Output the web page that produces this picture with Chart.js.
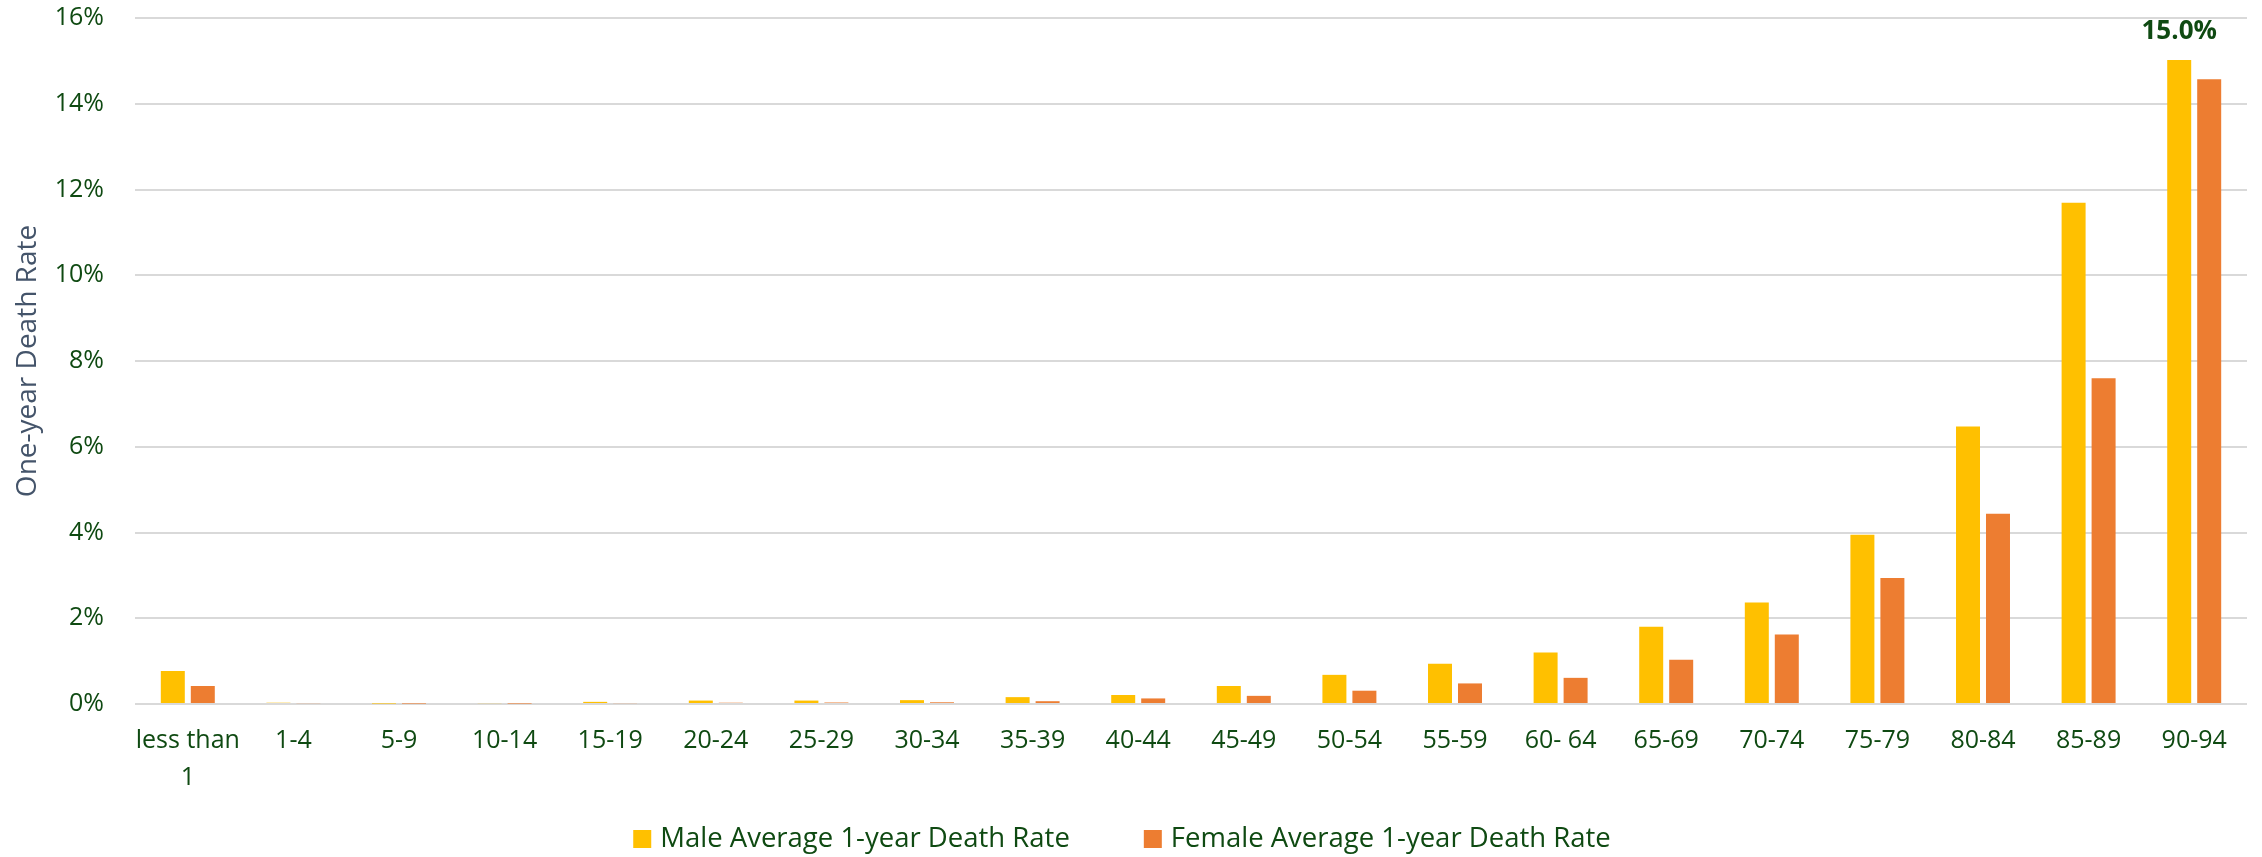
<!DOCTYPE html>
<html>
<head>
<meta charset="utf-8">
<script src="https://cdn.jsdelivr.net/npm/chart.js@4"></script>
<style>
  body{margin:0;background:#fff;}
  #wrap{width:2262px;height:857px;}
</style>
</head>
<body>
<div id="wrap"><canvas id="grafico" width="2262" height="857"></canvas></div>
<script>
// --- DATI ---
const categorie = [['less than','1'],'1-4','5-9','10-14','15-19','20-24','25-29','30-34','35-39','40-44','45-49','50-54','55-59','60- 64','65-69','70-74','75-79','80-84','85-89','90-94'];
// tassi di morte in %
const maschi  = [0.77,0.03,0.01,0.02,0.05,0.08,0.08,0.09,0.16,0.21,0.42,0.68,0.94,1.20,1.80,2.37,3.95,6.47,11.69,15.02];
const femmine = [0.42,0.02,0.01,0.01,0.02,0.03,0.035,0.04,0.065,0.13,0.19,0.31,0.48,0.61,1.03,1.62,2.94,4.44,7.60,14.57];
const yTicks = [0,2,4,6,8,10,12,14,16];
const etichettaIdx = 19; // solo il 15.0% sopra 90-94

const verde = '#0F4A12';
const fontBase = "'Open Sans', 'Liberation Sans', sans-serif";

// --- LEGENDA DISEGNATA A MANO ---
const legendaPlugin = {
  id:'legendaCustom',
  afterDraw(chart){
    const ctx = chart.ctx;
    const ds = chart.data.datasets;
    ctx.save();
    ctx.font = "27.5px " + fontBase;
    ctx.textBaseline = 'middle';
    const box = 18, gapTesto = 9, gapItem = 74, y = 839;
    let tot = 0;
    ds.forEach((d,i)=>{ tot += box + gapTesto + ctx.measureText(d.label).width + (i<ds.length-1?gapItem:0); });
    let x = 1122 - tot/2;
    ds.forEach(d=>{
      ctx.fillStyle = d.backgroundColor;
      ctx.fillRect(x, y-box/2, box, box);
      x += box + gapTesto;
      ctx.fillStyle = verde;
      ctx.textAlign = 'left';
      ctx.fillText(d.label, x, y);
      x += ctx.measureText(d.label).width + gapItem;
    });
    ctx.restore();
  }
};

// --- ETICHETTA DATO ---
const etichettaPlugin = {
  id:'etichetta',
  afterDatasetsDraw(chart){
    const bar = chart.getDatasetMeta(0).data[etichettaIdx];
    if(!bar) return;
    const ctx = chart.ctx;
    ctx.save();
    ctx.font = "bold 26px " + fontBase;
    ctx.fillStyle = verde;
    ctx.textAlign = 'center';
    ctx.textBaseline = 'alphabetic';
    ctx.fillText(maschi[etichettaIdx].toFixed(1)+'%', bar.x, bar.y-21);
    ctx.restore();
  }
};

// --- GRAFICO ---
const ctx1 = document.getElementById("grafico").getContext("2d");
new Chart(ctx1,{
  type:'bar',
  data:{
    labels: categorie,
    datasets:[
      {label:'Male Average 1-year Death Rate', data:maschi, backgroundColor:'#FFC000'},
      {label:'Female Average 1-year Death Rate', data:femmine, backgroundColor:'#ED7D31'}
    ]
  },
  options:{
    responsive:false,
    animation:false,
    devicePixelRatio:1,
    categoryPercentage:0.568,
    barPercentage:0.8,
    layout:{padding:{left:0,right:15,top:18,bottom:0}},
    plugins:{
      legend:{display:false},
      tooltip:{enabled:false}
    },
    scales:{
      x:{
        grid:{display:false, drawTicks:false},
        border:{display:false},
        ticks:{
          color:verde, autoSkip:false, maxRotation:0, padding:18,
          font:{family:fontBase, size:25, lineHeight:1.48}
        },
        afterFit: s=>{ s.height = 857-704; }
      },
      y:{
        min:0, max:16,
        afterBuildTicks: s=>{ s.ticks = yTicks.map(v=>({value:v})); },
        // tacche invisibili per distanziare le etichette senza gonfiare il padding in alto
        grid:{color:'#D9D9D9', lineWidth:2, drawTicks:true, tickLength:31, tickColor:'rgba(0,0,0,0)'},
        border:{display:false},
        ticks:{
          color:verde, padding:0,
          font:{family:fontBase, size:25},
          callback: v=>v+'%'
        },
        title:{
          display:true, text:'One-year Death Rate', color:'#44546A',
          font:{family:fontBase, size:28, lineHeight:1.2},
          padding:{top:11,bottom:0}
        },
        afterFit: s=>{ s.width = 135; }
      }
    }
  },
  plugins:[etichettaPlugin, legendaPlugin]
});
</script>
</body>
</html>
